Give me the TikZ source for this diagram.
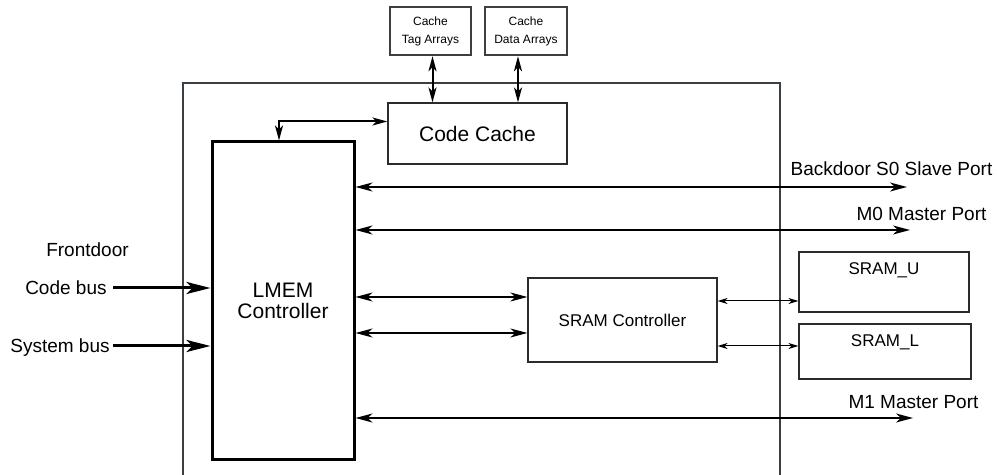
\documentclass[tikz,border=0pt]{standalone}
\usepackage{fontspec}
\setmainfont{Liberation Sans}
\usepackage{xcolor}
\usetikzlibrary{arrows.meta,positioning}
\definecolor{FrameGrey}{HTML}{3A3F44}
\definecolor{BoxGrey}{HTML}{2B2B2B}
\tikzset{
  frame/.style={draw=FrameGrey,line width=.65pt},
  arrbox/.style={draw=FrameGrey,line width=1.2pt,inner sep=0pt,align=center,
    font=\fontsize{6}{9}\selectfont},
  blk/.style={draw=BoxGrey,line width=.6pt,inner sep=0pt,align=center,
    font=\fontsize{10.5}{10.5}\selectfont},
  lmembox/.style={blk,draw=black,line width=1.5pt},
  sbox/.style={draw=BoxGrey,line width=.6pt,inner sep=0pt,
    font=\fontsize{8.5}{8.5}\selectfont},
  lbl/.style={inner sep=0pt,font=\fontsize{9.5}{9.5}\selectfont},
  port/.style={{Stealth[length=8.5pt,width=4.5pt,inset=2.5pt]}-{Stealth[length=8.5pt,width=4.5pt,inset=2.5pt]},line width=.8pt},
  bus/.style={-{Stealth[length=12pt,width=6pt,inset=3pt]},line width=1.5pt},
  cachelink/.style={{Stealth[length=7.5pt,width=4pt,inset=2pt]}-{Stealth[length=7.5pt,width=4pt,inset=2pt]},line width=1pt},
  memlink/.style={{Stealth[length=5pt,width=3pt,inset=1.5pt]}-{Stealth[length=5pt,width=3pt,inset=1.5pt]},line width=.5pt}
}

\begin{document}
\begin{tikzpicture}[x=0.5pt,y=-0.5pt]
  \useasboundingbox (0,0) rectangle (997,475);
  % chip frame, open at the bottom
  \draw[frame] (183,475) -- (183,83) -- (780,83) -- (780,475);

  % blocks
  \node[arrbox,minimum width=40.5pt,minimum height=24pt] (tag) at (430.5,31) {Cache\\Tag Arrays};
  \node[arrbox,minimum width=41pt,minimum height=24pt] (data) at (526,31) {Cache\\Data Arrays};
  \node[blk,minimum width=89.5pt,minimum height=30.5pt] (cc) at (477.5,133.5) {Code Cache};
  \node[lmembox,minimum width=71pt,minimum height=159pt] (lmem) at (283,301) {LMEM\\Controller};
  \node[sbox,minimum width=94.5pt,minimum height=42pt] (sramc) at (622.5,320) {SRAM Controller};
  \node[sbox,minimum width=85pt,minimum height=30pt,
    label={[inner sep=0pt,anchor=north,yshift=-5.5pt,font=\fontsize{8.5}{8.5}\selectfont]north:SRAM\_U}] (sramu) at (884,282) {};
  \node[sbox,minimum width=86pt,minimum height=27.5pt,
    label={[inner sep=0pt,anchor=north,yshift=-5.5pt,font=\fontsize{8.5}{8.5}\selectfont]north:SRAM\_L}] (sraml) at (885,351.5) {};

  % cache arrays
  \draw[cachelink] ([xshift=1pt]tag.south) -- ([xshift=1pt]tag.south |- cc.north);
  \draw[cachelink] ([xshift=-4pt]data.south) -- ([xshift=-4pt]data.south |- cc.north);
  \draw[cachelink] ([yshift=6pt]cc.west) -| ([xshift=-2pt]lmem.north);

  % ports
  \coordinate (bd) at (907,187);
  \coordinate (m0) at (910,230);
  \coordinate (m1) at (913,418);
  \draw[port] (lmem.east |- bd) -- (bd);
  \draw[port] (lmem.east |- m0) -- (m0);
  \draw[port] (lmem.east |- m1) -- (m1);
  \node[lbl] at (891.5,169) {Backdoor S0 Slave Port};
  \node[lbl] at (921.5,214) {M0 Master Port};
  \node[lbl] at (913.5,402) {M1 Master Port};

  % SRAM path
  \draw[port] (lmem.east |- 0,297) -- (sramc.west |- 0,297);
  \draw[port] (lmem.east |- 0,333) -- (sramc.west |- 0,333);
  \draw[memlink] (sramc.east |- 0,301) -- (sramu.west |- 0,301);
  \draw[memlink] (sramc.east |- 0,346) -- (sraml.west |- 0,346);

  % frontdoor buses
  \coordinate (cb) at (113,288);
  \coordinate (sb) at (113,346);
  \draw[bus] (cb) -- (cb -| lmem.west);
  \draw[bus] (sb) -- (sb -| lmem.west);
  \node[lbl] at (87.5,250) {Frontdoor};
  \node[lbl,anchor=mid east] at (107,289) {Code bus};
  \node[lbl,anchor=mid east] at (110,347) {System bus};
\end{tikzpicture}
\end{document}
